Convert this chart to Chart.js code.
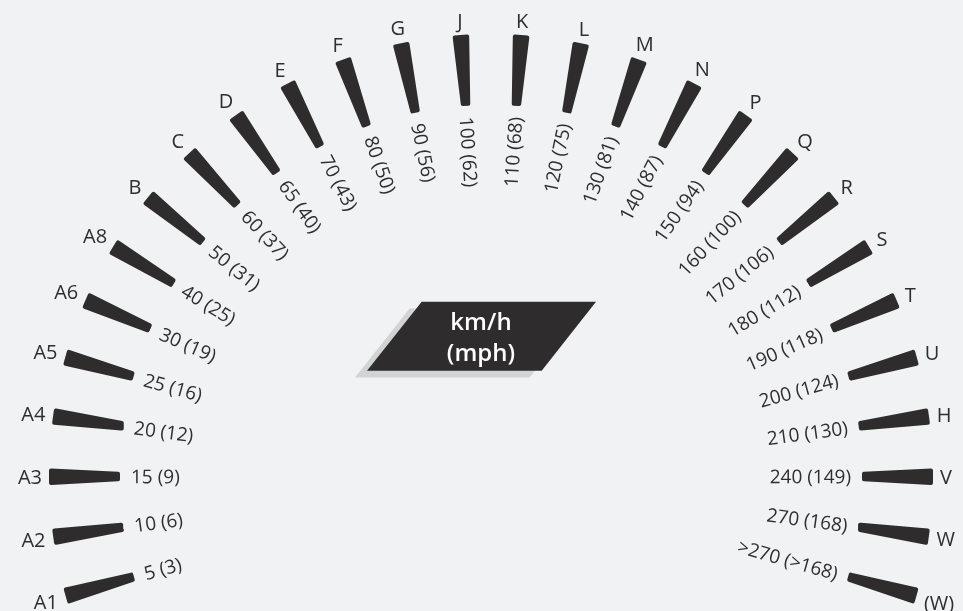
<!DOCTYPE html>
<html>
<head>
<meta charset="utf-8">
<script src="https://cdn.jsdelivr.net/npm/chart.js@4"></script>
<style>
  html, body { margin: 0; padding: 0; background: #f1f2f4; }
  canvas { display: block; }
</style>
</head>
<body>
<canvas id="c" width="963" height="611"></canvas>
<script>
// ---- data ----
const speedSymbols = ['A1','A2','A3','A4','A5','A6','A8','B','C','D','E','F','G','J','K','L','M','N','P','Q','R','S','T','U','H','V','W','(W)'];
const speedKmh = ['5','10','15','20','25','30','40','50','60','65','70','80','90','100','110','120','130','140','150','160','170','180','190','200','210','240','270','>270'];
const speedMph = ['3','6','9','12','16','19','25','31','37','40','43','50','56','62','68','75','81','87','94','100','106','112','118','124','130','149','168','>168'];
const unitLines = ['km/h', '(mph)'];

// ---- layout / style ----
const BAR = '#2e2c2d';
const TEXT = '#2f2d2e';
const SHADOW = '#d2d3d5';
const START_DEG = -15.75;
const SPAN_DEG = 211.5;
const STEP_DEG = SPAN_DEG / (speedSymbols.length - 1);
const R_OUT = 442, R_IN = 371, W_OUT = 16.5, W_IN = 9.5, STROKE = 4;
const R_TXT = 360, R_SYM = 449;

function theta(i) { return START_DEG + i * STEP_DEG; } // 0 = left, 90 = up
function polar(r, thDeg, off) {
  const phi = (180 - thDeg) * Math.PI / 180;
  const c = Math.cos(phi), s = Math.sin(phi);
  return { x: r * c - off * s, y: r * s + off * c };
}
function barShape(i) {
  const th = theta(i);
  const ro = R_OUT - STROKE / 2, ri = R_IN + STROKE / 2;
  const ho = (W_OUT - STROKE) / 2, hi = (W_IN - STROKE) / 2;
  const pts = [polar(ri, th, -hi), polar(ro, th, -ho), polar(ro, th, ho), polar(ri, th, hi)];
  let l = 0, r = 0;
  pts.forEach((p, k) => { if (p.x < pts[l].x) l = k; if (p.x > pts[r].x) r = k; });
  const out = [];
  for (let k = 0; k <= 4; k++) out.push(pts[(l + k) % 4]);
  let k = l;
  while (k % 4 !== r) { k++; out.push(pts[k % 4]); }
  return out;
}

const datasets = speedSymbols.map((sym, i) => ({
  label: sym,
  data: barShape(i),
  showLine: true,
  fill: 'shape',
  backgroundColor: BAR,
  borderColor: BAR,
  borderWidth: STROKE,
  borderJoinStyle: 'round',
  borderCapStyle: 'round',
  pointRadius: 0,
  pointHoverRadius: 0,
  tension: 0
}));

const decorPlugin = {
  id: 'decor',
  beforeDatasetsDraw(chart) {
    const { ctx, scales: { x, y } } = chart;
    const P = (a, b) => [x.getPixelForValue(a), y.getPixelForValue(b)];
    const box = [[-69.3, 174.3], [105, 174.3], [50.7, 105.3], [-124, 105.3]];
    const poly = (pts, dx, dy, col) => {
      ctx.beginPath();
      pts.forEach((p, k) => { const q = P(p[0] + dx, p[1] + dy); k ? ctx.lineTo(q[0], q[1]) : ctx.moveTo(q[0], q[1]); });
      ctx.closePath(); ctx.fillStyle = col; ctx.fill();
    };
    ctx.save();
    poly(box, -12, -6.8, SHADOW);
    poly(box, 0, 0, BAR);
    ctx.fillStyle = '#ffffff';
    ctx.font = '600 24px "Open Sans"';
    ctx.textAlign = 'center';
    ctx.textBaseline = 'alphabetic';
    const t1 = P(-10, 155), t2 = P(-10, 124);
    ctx.fillText(unitLines[0], t1[0], t1[1] + 8.7);
    ctx.fillText(unitLines[1], t2[0], t2[1] + 8.7);
    ctx.restore();
  },
  afterDatasetsDraw(chart) {
    const { ctx, scales: { x, y } } = chart;
    const px = p => ({ x: x.getPixelForValue(p.x), y: y.getPixelForValue(p.y) });
    ctx.save();
    ctx.fillStyle = TEXT;
    speedSymbols.forEach((sym, i) => {
      const th = theta(i);
      const left = th < 90;
      // inner speed label, radial
      const a = px(polar(R_TXT, th, 0));
      ctx.save();
      ctx.translate(a.x, a.y);
      ctx.rotate((left ? th : th - 180) * Math.PI / 180);
      ctx.font = '19px "Open Sans"';
      ctx.textAlign = left ? 'left' : 'right';
      ctx.textBaseline = 'alphabetic';
      ctx.fillText(speedKmh[i] + ' (' + speedMph[i] + ')', 0, 19 * 0.36);
      ctx.restore();
      // outer symbol, horizontal
      ctx.font = '20px "Open Sans"';
      const w = ctx.measureText(sym).width, h = 14.4;
      const phi = (180 - th) * Math.PI / 180;
      const half = Math.abs(Math.cos(phi)) * w / 2 + Math.abs(Math.sin(phi)) * h / 2;
      const b = px(polar(R_SYM + half, th, 0));
      ctx.textAlign = 'center';
      ctx.textBaseline = 'alphabetic';
      ctx.fillText(sym, b.x, b.y + 7.2);
    });
    ctx.restore();
  }
};

new Chart(document.getElementById('c'), {
  type: 'scatter',
  data: { datasets },
  options: {
    responsive: false,
    animation: false,
    events: [],
    devicePixelRatio: 1,
    layout: { padding: 0 },
    scales: {
      x: { type: 'linear', min: -491, max: 472, display: false },
      y: { type: 'linear', min: -135, max: 476, display: false }
    },
    plugins: { legend: { display: false }, tooltip: { enabled: false } }
  },
  plugins: [decorPlugin]
});
</script>
</body>
</html>
